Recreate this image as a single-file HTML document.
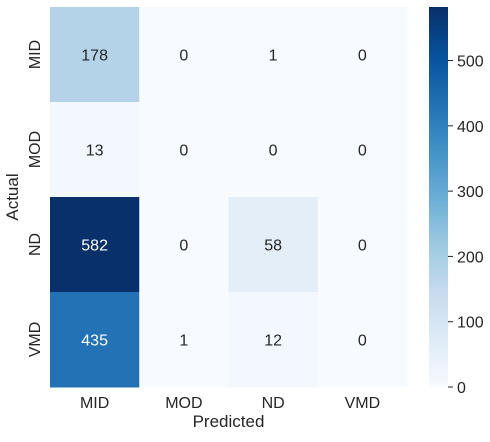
<!DOCTYPE html>
<html><head><meta charset="utf-8"><style>
body{margin:0;background:#fff;font-family:"Liberation Sans",Arial,sans-serif}
svg text{font-family:"Liberation Sans",Arial,sans-serif;fill:#262626}
</style></head><body>
<svg id="c" width="490" height="437"></svg>
<script>
const labels=["MID","MOD","ND","VMD"];
const row0=[178,0,1,0];
const row1=[13,0,0,0];
const row2=[582,0,58,0];
const row3=[435,1,12,0];
const cbTicks=[0,100,200,300,400,500];
const rows=[row0,row1,row2,row3];
const vmin=0,vmax=582;
const L=50,T=7,W=357,H=380;
const cw=W/4,ch=H/4;
const stops=["#f7fbff","#deebf7","#c6dbef","#9ecae1","#6baed6","#4292c6","#2171b5","#08519c","#08306b"];
function hex(h){return[1,3,5].map(i=>parseInt(h.substr(i,2),16));}
function cmap(v){let t=Math.max(0,Math.min(1,(v-vmin)/(vmax-vmin)))*8;let i=Math.min(7,Math.floor(t)),f=t-i;
const a=hex(stops[i]),b=hex(stops[i+1]);return"rgb("+a.map((x,k)=>Math.round(x+(b[k]-x)*f)).join(",")+")";}
const svg=document.getElementById('c');const NS="http://www.w3.org/2000/svg";
function el(tag,at,txt){const e=document.createElementNS(NS,tag);for(const k in at)e.setAttribute(k,at[k]);if(txt!==undefined)e.textContent=txt;svg.appendChild(e);return e;}
rows.forEach((r,i)=>r.forEach((v,j)=>{
const rc=el('rect',{x:L+j*cw,y:T+i*ch,width:cw+0.5,height:ch+0.5,fill:cmap(v)});


const tx=el('text',{x:L+(j+0.5)*cw,y:T+(i+0.5)*ch+6,'text-anchor':'middle','font-size':16,style:'fill:'+((v-vmin)/(vmax-vmin)>0.5?'#fff':'#262626')},v);


}));
labels.forEach((l,i)=>{
const a=el('text',{x:L+(i+0.5)*cw,y:408,'text-anchor':'middle','font-size':16},l);


const y=T+(i+0.5)*ch;
const b=el('text',{x:0,y:0,'text-anchor':'middle','font-size':16,transform:'translate(40,'+y+') rotate(-90)'},l);


});
const xt=el('text',{x:L+W/2,y:427,'text-anchor':'middle','font-size':17},'Predicted');


const yt=el('text',{x:0,y:0,'text-anchor':'middle','font-size':17,transform:'translate(18,'+(T+H/2)+') rotate(-90)'},'Actual');


// colorbar
const cx=429,cwid=19;
const N=200;
for(let k=0;k<N;k++){const v=vmin+(vmax-vmin)*(k+0.5)/N;
const r=el('rect',{x:cx,y:T+H-(k+1)*H/N,width:cwid,height:H/N+0.6,fill:cmap(v)});

}
cbTicks.forEach(t=>{const y=T+H-(t-vmin)/(vmax-vmin)*H;
const ln=el('line',{x1:cx+cwid,x2:cx+cwid+5,y1:y,y2:y,stroke:'#262626','stroke-width':1});


const tx=el('text',{x:cx+cwid+9,y:y+6,'font-size':16},t);

});
</script>
</body></html>
